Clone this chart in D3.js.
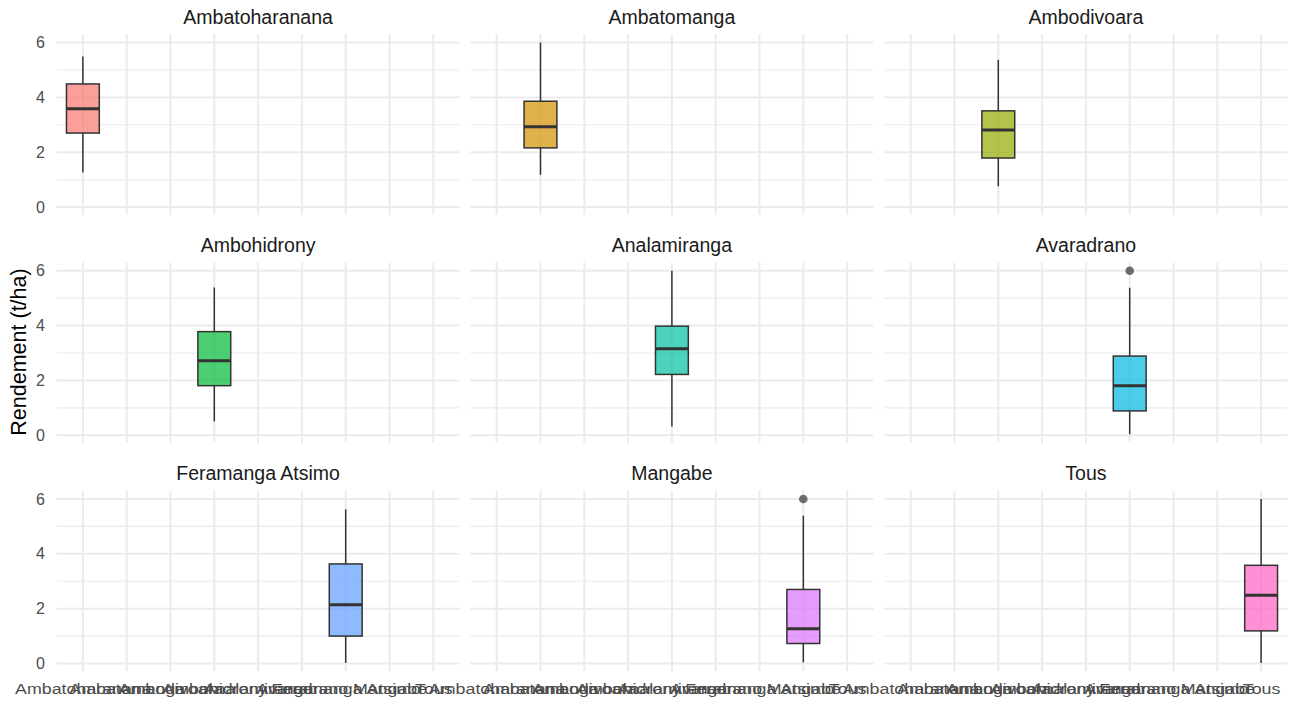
<!DOCTYPE html>
<html>
<head>
<meta charset="utf-8">
<script src="https://cdn.jsdelivr.net/npm/d3@7"></script>
<style>
  html, body { margin: 0; padding: 0; background: #fff; }
  svg { display: block; font-family: "Liberation Sans", Arial, sans-serif; }
</style>
</head>
<body>
<svg id="chart" width="1294" height="702"></svg>
<script>
// ---- data ----
const categories = ["Ambatoharanana", "Ambatomanga", "Ambodivoara", "Ambohidrony", "Analamiranga", "Avaradrano", "Feramanga Atsimo", "Mangabe", "Tous"];
const whiskerLow  = [1.26, 1.18, 0.76, 0.51, 0.32, 0.04, 0.02, 0.04, 0.02];
const q1          = [2.70, 2.16, 1.79, 1.81, 2.22, 0.89, 1.00, 0.73, 1.19];
const median      = [3.59, 2.93, 2.81, 2.72, 3.16, 1.81, 2.14, 1.27, 2.49];
const q3          = [4.49, 3.86, 3.51, 3.78, 3.98, 2.89, 3.63, 2.70, 3.58];
const whiskerHigh = [5.49, 6.00, 5.37, 5.39, 6.00, 5.38, 5.62, 5.39, 6.00];
const outliers    = [[], [], [], [], [], [6.0], [], [6.0], []];
const yTicks = [0, 2, 4, 6];
const yMinor = [1, 3, 5];
const colors = ["#F8766D", "#D39200", "#93AA00", "#00BA38", "#00C19F", "#00B9E3", "#619CFF", "#DB72FB", "#FF61C3"];
const yTitle = "Rendement (t/ha)";

// ---- layout ----
const svg = d3.select("#chart");
const colLeft = [56.6, 470.4, 884.4];
const rowTop = [34.3, 262.5, 490.7];
const pw = 403, ph = 180.5;

const x = d3.scalePoint().domain(categories).range([0, pw]).padding(0.6);
const y = d3.scaleLinear().domain([-0.28, 6.3]).range([ph, 0]);
const step = x.step();
const boxW = step * 0.75;

categories.forEach((facet, i) => {
  const col = i % 3, row = Math.floor(i / 3);
  const g = svg.append("g").attr("transform", `translate(${colLeft[col]},${rowTop[row]})`);

  // minor grid
  g.selectAll(".minor").data(yMinor).enter().append("line")
    .attr("x1", 0).attr("x2", pw)
    .attr("y1", d => y(d)).attr("y2", d => y(d))
    .attr("stroke", "#ebebeb").attr("stroke-width", 1.1);
  // major grid y
  g.selectAll(".majy").data(yTicks).enter().append("line")
    .attr("x1", 0).attr("x2", pw)
    .attr("y1", d => y(d)).attr("y2", d => y(d))
    .attr("stroke", "#ebebeb").attr("stroke-width", 2);
  // major grid x
  g.selectAll(".majx").data(categories).enter().append("line")
    .attr("x1", d => x(d)).attr("x2", d => x(d))
    .attr("y1", 0).attr("y2", ph)
    .attr("stroke", "#ebebeb").attr("stroke-width", 2);

  // strip title
  g.append("text").attr("x", pw / 2).attr("y", -10.3)
    .attr("text-anchor", "middle").attr("font-size", 19.5).attr("fill", "#1a1a1a")
    .text(facet);

  // y axis labels (left column)
  if (col === 0) {
    const ax = g.append("g").call(d3.axisLeft(y).tickValues(yTicks).tickSize(0).tickPadding(11.6).tickFormat(d3.format("d")));
    ax.select(".domain").remove();
    ax.selectAll("text").attr("font-size", 16).attr("fill", "#4d4d4d")
      .attr("font-family", "Liberation Sans, Arial, sans-serif");
  }
  // x axis labels (bottom row)
  if (row === 2) {
    const ax = g.append("g").attr("transform", `translate(0,${ph})`)
      .call(d3.axisBottom(x).tickSize(0).tickPadding(11.5));
    ax.select(".domain").remove();
    ax.selectAll("text").attr("font-size", 15.5).attr("fill", "#4d4d4d")
      .attr("transform", "scale(1.15,1)")
      .attr("font-family", "Liberation Sans, Arial, sans-serif");
  }

  // boxplot
  const cx = x(facet);
  g.append("line").attr("x1", cx).attr("x2", cx)
    .attr("y1", y(q3[i])).attr("y2", y(whiskerHigh[i]))
    .attr("stroke", "#333333").attr("stroke-width", 1.5);
  g.append("line").attr("x1", cx).attr("x2", cx)
    .attr("y1", y(q1[i])).attr("y2", y(whiskerLow[i]))
    .attr("stroke", "#333333").attr("stroke-width", 1.5);
  g.append("rect")
    .attr("x", cx - boxW / 2).attr("width", boxW)
    .attr("y", y(q3[i])).attr("height", y(q1[i]) - y(q3[i]))
    .attr("fill", colors[i]).attr("fill-opacity", 0.7)
    .attr("stroke", "#333333").attr("stroke-width", 1.5);
  g.append("line").attr("x1", cx - boxW / 2).attr("x2", cx + boxW / 2)
    .attr("y1", y(median[i])).attr("y2", y(median[i]))
    .attr("stroke", "#333333").attr("stroke-width", 3);
  g.selectAll(".out").data(outliers[i]).enter().append("circle")
    .attr("cx", cx).attr("cy", d => y(d)).attr("r", 4.3)
    .attr("fill", "#333333").attr("fill-opacity", 0.7);
});

// y axis title
svg.append("text")
  .attr("transform", "translate(26,352) rotate(-90)")
  .attr("text-anchor", "middle").attr("font-size", 21.5).attr("fill", "#000")
  .text(yTitle);
</script>
</body>
</html>
